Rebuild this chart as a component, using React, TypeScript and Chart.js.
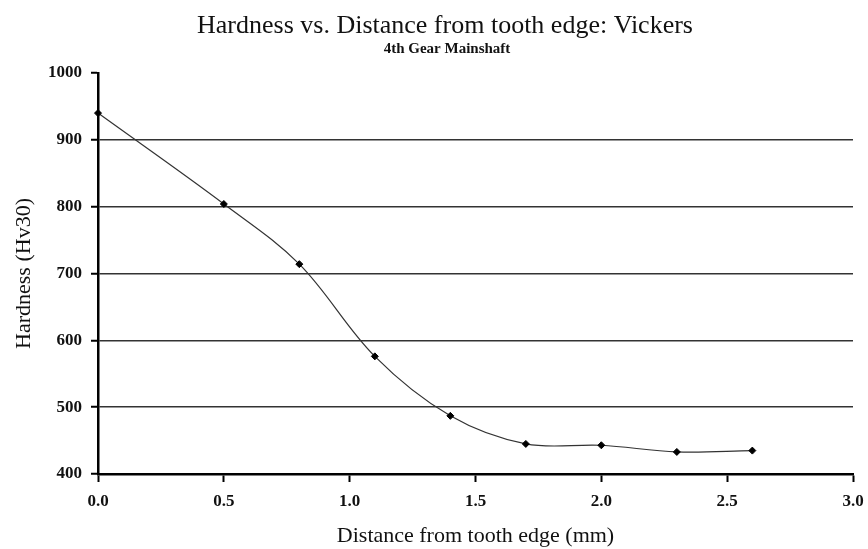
import React, { useEffect, useRef } from "react";
import { Chart, registerables } from "chart.js";

Chart.register(...registerables);

const distances = [0, 0.5, 0.8, 1.1, 1.4, 1.7, 2.0, 2.3, 2.6];
const hardness = [940, 804, 714, 576, 487, 445, 443, 433, 435];
const titleText = "Hardness vs. Distance from tooth edge: Vickers";
const subtitleText = "4th Gear Mainshaft";
const xAxisTitle = "Distance from tooth edge (mm)";
const yAxisTitle = "Hardness (Hv30)";
const xMin = 0;
const xMax = 3;
const xStep = 0.5;
const yMin = 400;
const yMax = 1000;
const yStep = 100;

const SERIF = "'Liberation Serif', 'Times New Roman', serif";

const titlePlugin = {
  id: "customTitles",
  afterDraw(chart: any) {
    const ctx = chart.ctx;
    ctx.save();
    ctx.fillStyle = "#111";
    ctx.textAlign = "center";
    ctx.textBaseline = "alphabetic";
    ctx.font = `26px ${SERIF}`;
    ctx.fillText(titleText, 445, 33);
    ctx.font = `bold 15px ${SERIF}`;
    ctx.fillText(subtitleText, 447, 53);
    ctx.restore();
  },
};

export default function App() {
  const ref = useRef<HTMLCanvasElement | null>(null);
  useEffect(() => {
    if (!ref.current) return;
    const points = distances.map((x, i) => ({ x, y: hardness[i] }));
    const chart = new Chart(ref.current, {
      type: "line",
      data: {
        datasets: [
          {
            data: points,
            borderColor: "#333",
            borderWidth: 1.2,
            tension: 0.35,
            pointStyle: "rectRot",
            pointRadius: 3.5,
            pointBackgroundColor: "#000",
            pointBorderColor: "#000",
            pointBorderWidth: 1,
            clip: false as any,
          },
        ],
      },
      options: {
        animation: false,
        responsive: false,
        devicePixelRatio: 1,
        layout: { padding: { left: 0, right: 15, top: 73, bottom: 0 } },
        plugins: {
          legend: { display: false },
          title: { display: false },
          tooltip: { enabled: false },
        },
        scales: {
          x: {
            type: "linear",
            min: xMin,
            max: xMax,
            afterFit(scale: any) {
              scale.height = 75;
              scale.paddingLeft = 0;
              scale.paddingRight = 0;
            },
            ticks: {
              stepSize: xStep,
              color: "#111",
              padding: 9,
              font: { family: SERIF, size: 17, weight: "bold" },
              callback: (v: any) => Number(v).toFixed(1),
            },
            grid: {
              drawOnChartArea: false,
              drawTicks: true,
              tickLength: 8,
              tickColor: "#000",
              tickWidth: 2,
            },
            border: { color: "#000", width: 2.5 },
            title: {
              display: true,
              text: xAxisTitle,
              color: "#111",
              font: { family: SERIF, size: 22, weight: "normal" },
              padding: { top: 0, bottom: 0 },
            },
          },
          y: {
            type: "linear",
            min: yMin,
            max: yMax,
            afterFit(scale: any) {
              scale.width = 98;
              scale.paddingTop = 0;
              scale.paddingBottom = 0;
            },
            ticks: {
              stepSize: yStep,
              color: "#111",
              padding: 9,
              font: { family: SERIF, size: 17, weight: "bold" },
              callback: (v: any) => String(v),
            },
            grid: {
              color: (c: any) => (c.tick && c.tick.value === yMax ? "rgba(0,0,0,0)" : "#333"),
              lineWidth: 1.5,
              drawTicks: true,
              tickLength: 7,
              tickColor: "#000",
              tickWidth: 2,
            },
            border: { color: "#000", width: 2.5 },
            title: {
              display: true,
              text: yAxisTitle,
              color: "#111",
              font: { family: SERIF, size: 22, weight: "normal" },
              padding: { top: 11, bottom: 0 },
            },
          },
        },
      },
      plugins: [titlePlugin],
    });
    return () => chart.destroy();
  }, []);
  return (
    <div style={{ position: "absolute", left: 0, top: 0, width: 868, height: 549, background: "#fff" }}>
      <canvas ref={ref} width={868} height={549} />
    </div>
  );
}
